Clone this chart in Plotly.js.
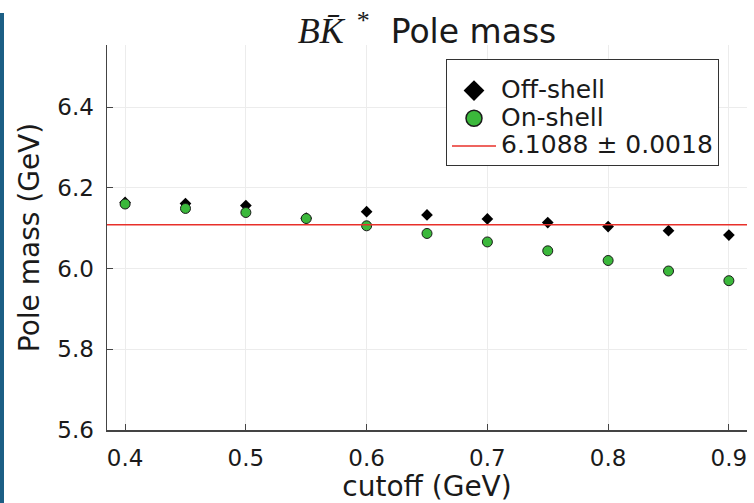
<!DOCTYPE html>
<html>
<head>
<meta charset="utf-8">
<script src="https://cdn.plot.ly/plotly-3.0.1.min.js"></script>
<style>
  html, body { margin: 0; padding: 0; background: #fff; }
  #bar { position: absolute; left: 0; top: 13px; width: 4px; height: 490px; background: #1c5f85; z-index: 5; }
  #chart { width: 754px; height: 503px; }
</style>
</head>
<body>
<div id="bar"></div>
<div id="chart"></div>
<script>
// Data
const cutoffs = [0.40, 0.45, 0.50, 0.55, 0.60, 0.65, 0.70, 0.75, 0.80, 0.85, 0.90];
const offShell = [6.164, 6.161, 6.156, 6.125, 6.141, 6.133, 6.123, 6.114, 6.104, 6.094, 6.083];
const onShell  = [6.160, 6.149, 6.139, 6.124, 6.106, 6.087, 6.066, 6.044, 6.020, 5.994, 5.970];
const fitValue = 6.1088;
const fitError = 0.0018;
const xTicks = [0.4, 0.5, 0.6, 0.7, 0.8, 0.9];
const xTickLabels = ["0.4", "0.5", "0.6", "0.7", "0.8", "0.9"];
const yTicks = [5.6, 5.8, 6.0, 6.2, 6.4];
const yTickLabels = ["5.6", "5.8", "6.0", "6.2", "6.4"];
const xRange = [0.385, 0.915];
const yRange = [5.6, 6.554];

const FONT = "DejaVu Sans, sans-serif";
const GREEN = "#3bb83b";
const fitLabel = fitValue.toFixed(4) + " ± " + fitError.toFixed(4);
const big = s => '<span style="font-size:25px">' + s + '</span>';

const traces = [
  { x: cutoffs, y: offShell, type: "scatter", mode: "markers", name: "Off-shell", showlegend: false,
    marker: { symbol: "diamond", size: 9, color: "#000000", line: { width: 0 } } },
  { x: cutoffs, y: onShell, type: "scatter", mode: "markers", name: "On-shell", showlegend: false,
    marker: { symbol: "circle", size: 10, color: GREEN, line: { width: 1, color: "#1a1a1a" } } },
  { x: xRange, y: xRange.map(() => fitValue), type: "scatter", mode: "lines", showlegend: false,
    name: fitLabel, line: { color: "#e8302a", width: 1.5 } },
  // legend entries
  { x: [null], y: [null], type: "scatter", mode: "markers", name: big("Off-shell"),
    marker: { symbol: "diamond", size: 16, color: "#000000" } },
  { x: [null], y: [null], type: "scatter", mode: "markers", name: big("On-shell"),
    marker: { symbol: "circle", size: 16, color: GREEN, line: { width: 1.5, color: "#1a1a1a" } } },
  { x: [null], y: [null], type: "scatter", mode: "lines", name: big(fitLabel),
    line: { color: "#e8302a", width: 1.5 } }
];

const layout = {
  width: 754, height: 503,
  paper_bgcolor: "#ffffff", plot_bgcolor: "#ffffff",
  margin: { l: 107, r: 7, t: 45, b: 73 },
  font: { family: FONT, color: "#1a1a1a", size: 22 },
  title: {
    text: '<span style="font-family:\'Liberation Serif\',serif;font-style:italic;font-size:36px">BK\u0304</span><sup><span style="font-family:\'Liberation Serif\',serif;font-size:26px">  *</span></sup>  Pole mass',
    font: { family: FONT, size: 33, color: "#1a1a1a" },
    x: 0.5, xref: "paper", xanchor: "center",
    y: 1 - 31 / 503, yref: "container", yanchor: "middle"
  },
  xaxis: {
    range: xRange, tickvals: xTicks, ticktext: xTickLabels,
    showline: true, linecolor: "#444444", linewidth: 1.5, mirror: false,
    ticks: "inside", ticklen: 6, tickcolor: "#444444", tickwidth: 1.2,
    ticklabelstandoff: 7,
    showgrid: true, gridcolor: "#ececec", gridwidth: 1, zeroline: false,
    tickfont: { family: FONT, size: 23, color: "#1a1a1a" },
    title: { text: "cutoff (GeV)", font: { family: FONT, size: 28, color: "#1a1a1a" }, standoff: 1 }
  },
  yaxis: {
    range: yRange, tickvals: yTicks, ticktext: yTickLabels,
    showline: true, linecolor: "#444444", linewidth: 1.5, mirror: false,
    ticks: "inside", ticklen: 6, tickcolor: "#444444", tickwidth: 1.2,
    ticklabelstandoff: 7,
    showgrid: true, gridcolor: "#ececec", gridwidth: 1, zeroline: false,
    tickfont: { family: FONT, size: 23, color: "#1a1a1a" },
    title: { text: "Pole mass (GeV)", font: { family: FONT, size: 28, color: "#1a1a1a" }, standoff: 9 }
  },
  legend: {
    x: (446 - 107) / 640, y: (430 - 59) / 385, xanchor: "left", yanchor: "top",
    bgcolor: "#ffffff", bordercolor: "#333333", borderwidth: 1,
    font: { family: FONT, size: 19, color: "#1a1a1a" },
    title: { text: " ", font: { family: FONT, size: 9 } },
    tracegroupgap: 0, itemwidth: 44
  },
  showlegend: true
};

Plotly.newPlot("chart", traces, layout, { displayModeBar: false, staticPlot: true });
</script>
</body>
</html>
